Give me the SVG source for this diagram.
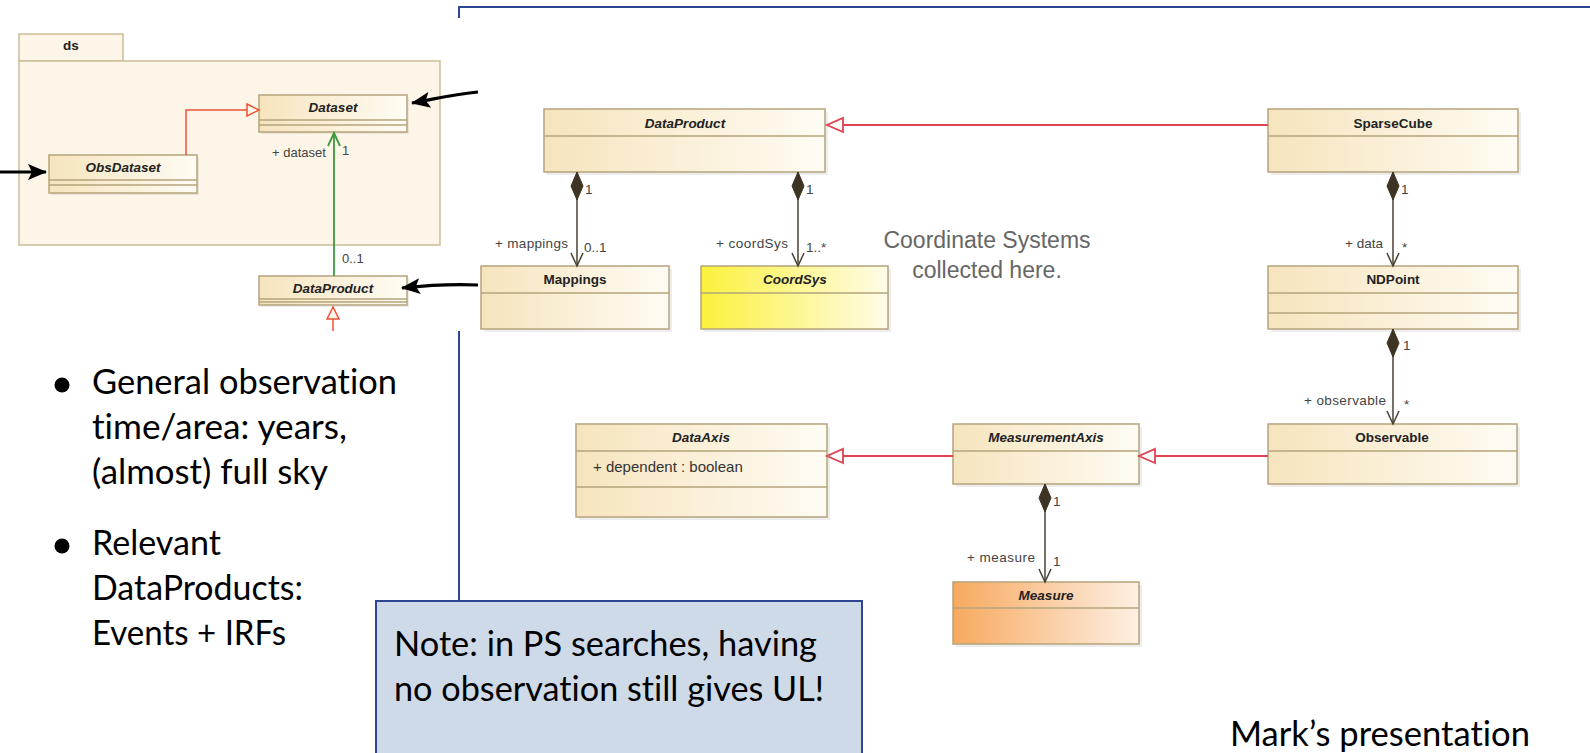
<svg xmlns="http://www.w3.org/2000/svg" width="1590" height="753" viewBox="0 0 1590 753">
<style>
marker{overflow:visible}
.box{fill:url(#gCls);stroke:#b5a47c;stroke-width:1.5}
.sh{fill:#000;opacity:.07}
.dv{stroke:#b5a47c;stroke-width:1.5}
.cn{font-family:"Liberation Sans",Arial,sans-serif;font-weight:bold;font-size:13.5px;fill:#222;text-anchor:middle}
.it{font-style:italic}
.lb{font-family:"Liberation Sans",Arial,sans-serif;font-size:13.5px;fill:#444}
.big{font-family:Lato,"Open Sans",sans-serif;font-size:34px;fill:#000;font-variant-ligatures:none;font-feature-settings:"liga" 0}
.cs{font-family:"Liberation Sans",Arial,sans-serif;font-size:23px;fill:#666;text-anchor:middle}
.frame{stroke:#2e4593;stroke-width:2;fill:none}
.gen{fill:none;stroke:#e0434f;stroke-width:1.8}
.genL{fill:none;stroke:#ee5236;stroke-width:1.5}
.comp{fill:none;stroke:#4a4232;stroke-width:1.5}
.grn{fill:none;stroke:#3c9a3c;stroke-width:1.8}
.blk{fill:none;stroke:#000;stroke-width:3.2}
</style>
<defs>
<linearGradient id="gCls" x1="0" y1="0" x2="1" y2="0"><stop offset="0" stop-color="#f6e4bd"/><stop offset="1" stop-color="#fffcf4"/></linearGradient>
<linearGradient id="gYel" x1="0" y1="0" x2="1" y2="0"><stop offset="0" stop-color="#fbf13c"/><stop offset="1" stop-color="#fffce8"/></linearGradient>
<linearGradient id="gOrg" x1="0" y1="0" x2="1" y2="0"><stop offset="0" stop-color="#f7a95f"/><stop offset="1" stop-color="#fdf0e4"/></linearGradient>
<marker id="genR" markerUnits="userSpaceOnUse" markerWidth="16" markerHeight="14" refX="16" refY="7" orient="auto"><path d="M0,0 L16,7 L0,14 Z" fill="#fff" stroke="#e0434f" stroke-width="1.8"/></marker>
<marker id="genL" markerUnits="userSpaceOnUse" markerWidth="12" markerHeight="12" refX="12" refY="6" orient="auto"><path d="M0,0 L12,6 L0,12 Z" fill="#fdf6e8" stroke="#ee5236" stroke-width="1.5"/></marker>
<marker id="dia" markerUnits="userSpaceOnUse" markerWidth="28" markerHeight="12" refX="0" refY="6" orient="auto"><path d="M0,6 L14,0 L28,6 L14,12 Z" fill="#3d3424" stroke="#3d3424" stroke-width="1"/></marker>
<marker id="opn" markerUnits="userSpaceOnUse" markerWidth="14" markerHeight="12" refX="13" refY="6" orient="auto"><path d="M0,0 L13,6 L0,12" fill="none" stroke="#4a4232" stroke-width="1.5"/></marker>
<marker id="opnG" markerUnits="userSpaceOnUse" markerWidth="14" markerHeight="12" refX="13" refY="6" orient="auto"><path d="M0,0 L13,6 L0,12" fill="none" stroke="#3c9a3c" stroke-width="1.8"/></marker>
<marker id="blkH" markerUnits="userSpaceOnUse" markerWidth="20" markerHeight="16" refX="18" refY="8" orient="auto"><path d="M0,0 L19,8 L0,16 L4,8 Z" fill="#000"/></marker>
</defs>
<rect width="1590" height="753" fill="#fff"/>

<g id="frame">
<path class="frame" d="M459,18 L459,7 L1590,7"/>
<path class="frame" d="M459,331 L459,601"/>
</g>

<g id="pkg-ds">
<rect x="19" y="34" width="104" height="27" fill="#fdf6e8" stroke="#cbbd98" stroke-width="1.5"/>
<rect x="19" y="61" width="421" height="184" fill="#fdf6e8" stroke="#cbbd98" stroke-width="1.5"/>
<text class="cn" x="71" y="50">ds</text>
</g>
<g id="Dataset">
<rect class="sh" x="261" y="97" width="148" height="37"/>
<rect class="box" x="259" y="95" width="148" height="37"/>
<line class="dv" x1="259" y1="120" x2="407" y2="120"/><line class="dv" x1="259" y1="125" x2="407" y2="125"/>
<text class="cn it" x="333" y="112">Dataset</text>
</g>
<g id="ObsDataset">
<rect class="sh" x="51" y="157" width="148" height="38"/>
<rect class="box" x="49" y="155" width="148" height="38"/>
<line class="dv" x1="49" y1="180" x2="197" y2="180"/><line class="dv" x1="49" y1="185" x2="197" y2="185"/>
<text class="cn it" x="123" y="172">ObsDataset</text>
</g>
<g id="DataProductSmall">
<rect class="sh" x="261" y="278" width="148" height="29"/>
<rect class="box" x="259" y="276" width="148" height="29"/>
<line class="dv" x1="259" y1="299" x2="407" y2="299"/><line class="dv" x1="259" y1="302" x2="407" y2="302"/>
<text class="cn it" x="333" y="293">DataProduct</text>
</g>

<g id="DataProduct">
<rect class="sh" x="547" y="112" width="281" height="63"/>
<rect class="box" x="544" y="109" width="281" height="63"/>
<line class="dv" x1="544" y1="136" x2="825" y2="136"/>
<text class="cn it" x="685" y="128">DataProduct</text>
</g>
<g id="SparseCube">
<rect class="sh" x="1271" y="112" width="250" height="63"/>
<rect class="box" x="1268" y="109" width="250" height="63"/>
<line class="dv" x1="1268" y1="136" x2="1518" y2="136"/>
<text class="cn" x="1393" y="128">SparseCube</text>
</g>
<g id="Mappings">
<rect class="sh" x="484" y="269" width="188" height="63"/>
<rect class="box" x="481" y="266" width="188" height="63"/>
<line class="dv" x1="481" y1="293" x2="669" y2="293"/>
<text class="cn" x="575" y="284">Mappings</text>
</g>
<g id="CoordSys">
<rect class="sh" x="704" y="269" width="187" height="63"/>
<rect class="box" x="701" y="266" width="187" height="63" style="fill:url(#gYel)"/>
<line class="dv" x1="701" y1="293" x2="888" y2="293"/>
<text class="cn it" x="795" y="284">CoordSys</text>
</g>
<g id="NDPoint">
<rect class="sh" x="1271" y="269" width="250" height="63"/>
<rect class="box" x="1268" y="266" width="250" height="63"/>
<line class="dv" x1="1268" y1="293" x2="1518" y2="293"/><line class="dv" x1="1268" y1="313" x2="1518" y2="313"/>
<text class="cn" x="1393" y="284">NDPoint</text>
</g>
<g id="Observable">
<rect class="sh" x="1271" y="427" width="249" height="60"/>
<rect class="box" x="1268" y="424" width="249" height="60"/>
<line class="dv" x1="1268" y1="451" x2="1517" y2="451"/>
<text class="cn" x="1392" y="442">Observable</text>
</g>
<g id="MeasurementAxis">
<rect class="sh" x="956" y="427" width="186" height="60"/>
<rect class="box" x="953" y="424" width="186" height="60"/>
<line class="dv" x1="953" y1="451" x2="1139" y2="451"/>
<text class="cn it" x="1046" y="442">MeasurementAxis</text>
</g>
<g id="DataAxis">
<rect class="sh" x="579" y="427" width="251" height="93"/>
<rect class="box" x="576" y="424" width="251" height="93"/>
<line class="dv" x1="576" y1="451" x2="827" y2="451"/><line class="dv" x1="576" y1="487" x2="827" y2="487"/>
<text class="cn it" x="701" y="442">DataAxis</text>
<text class="lb" x="593" y="472" style="font-size:15px;fill:#333">+ dependent : boolean</text>
</g>
<g id="Measure">
<rect class="sh" x="956" y="585" width="186" height="62"/>
<rect class="box" x="953" y="582" width="186" height="62" style="fill:url(#gOrg)"/>
<line class="dv" x1="953" y1="608" x2="1139" y2="608"/>
<text class="cn it" x="1046" y="600">Measure</text>
</g>

<g id="connectors">
<path class="genL" d="M186,155 L186,110 L259,110" marker-end="url(#genL)"/>
<path class="genL" d="M333,331 L333,307" marker-end="url(#genL)"/>
<path class="grn" d="M334,276 L334,133" marker-end="url(#opnG)"/>
<path class="blk" d="M478,92 C455,94 435,99 412,103" marker-end="url(#blkH)"/>
<path class="blk" d="M0,172 L46,172" marker-end="url(#blkH)"/>
<path class="blk" d="M478,285 C455,284 430,285 402,288" marker-end="url(#blkH)"/>
<path class="gen" d="M1268,125 L827,125" marker-end="url(#genR)"/>
<path class="gen" d="M1268,456 L1139,456" marker-end="url(#genR)"/>
<path class="gen" d="M953,456 L827,456" marker-end="url(#genR)"/>
<path class="comp" d="M577,172 L577,266" marker-start="url(#dia)" marker-end="url(#opn)"/>
<path class="comp" d="M798,172 L798,266" marker-start="url(#dia)" marker-end="url(#opn)"/>
<path class="comp" d="M1393,172 L1393,266" marker-start="url(#dia)" marker-end="url(#opn)"/>
<path class="comp" d="M1393,329 L1393,424" marker-start="url(#dia)" marker-end="url(#opn)"/>
<path class="comp" d="M1045,484 L1045,582" marker-start="url(#dia)" marker-end="url(#opn)"/>
</g>

<g id="labels">
<text class="lb" x="272" y="157" style="font-size:13px">+ dataset</text>
<text class="lb" x="342" y="155" style="font-size:13px">1</text>
<text class="lb" x="342" y="263" style="font-size:13px">0..1</text>
<text class="lb" x="585" y="194">1</text>
<text class="lb" x="495" y="248" textLength="73">+ mappings</text>
<text class="lb" x="584" y="252">0..1</text>
<text class="lb" x="806" y="194">1</text>
<text class="lb" x="716" y="248" textLength="72">+ coordSys</text>
<text class="lb" x="806" y="252">1..*</text>
<text class="lb" x="1401" y="194">1</text>
<text class="lb" x="1345" y="248">+ data</text>
<text class="lb" x="1402" y="252">*</text>
<text class="lb" x="1403" y="350">1</text>
<text class="lb" x="1304" y="405" textLength="82">+ observable</text>
<text class="lb" x="1404" y="409">*</text>
<text class="lb" x="1053" y="506">1</text>
<text class="lb" x="967" y="562" textLength="68">+ measure</text>
<text class="lb" x="1053" y="566">1</text>
</g>

<g id="cs-note">
<text class="cs" x="987" y="248">Coordinate Systems</text>
<text class="cs" x="987" y="278">collected here.</text>
</g>

<g id="bullets">
<circle cx="62" cy="385" r="7.5" fill="#000"/>
<circle cx="62" cy="546" r="7.5" fill="#000"/>
<text class="big" x="92" y="394" textLength="305" lengthAdjust="spacingAndGlyphs">General observation</text>
<text class="big" x="92" y="439" textLength="255" lengthAdjust="spacingAndGlyphs">time/area: years,</text>
<text class="big" x="92" y="484" textLength="236" lengthAdjust="spacingAndGlyphs">(almost) full sky</text>
<text class="big" x="92" y="555" textLength="129" lengthAdjust="spacingAndGlyphs">Relevant</text>
<text class="big" x="92" y="600" textLength="211" lengthAdjust="spacingAndGlyphs">DataProducts:</text>
<text class="big" x="92" y="645" textLength="194" lengthAdjust="spacingAndGlyphs">Events + IRFs</text>
</g>

<g id="note">
<rect x="376" y="601" width="486" height="160" fill="#cfdae8" stroke="#2e4593" stroke-width="2"/>
<text class="big" x="394" y="656" textLength="423" lengthAdjust="spacingAndGlyphs">Note: in PS searches, having</text>
<text class="big" x="394" y="701" textLength="430" lengthAdjust="spacingAndGlyphs">no observation still gives UL!</text>
</g>

<g id="credit">
<text class="big" x="1230" y="746" textLength="300" lengthAdjust="spacingAndGlyphs">Mark’s presentation</text>
</g>
</svg>
